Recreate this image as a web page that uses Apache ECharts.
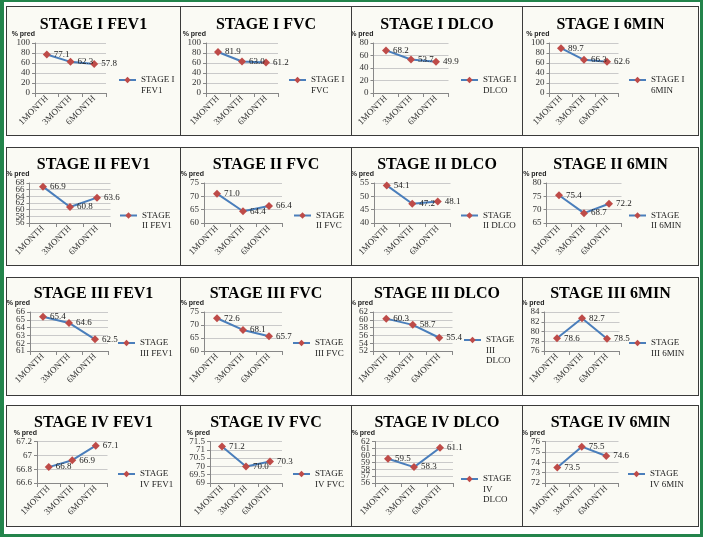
<!DOCTYPE html>
<html><head><meta charset="utf-8">
<script src="https://cdn.jsdelivr.net/npm/echarts@6/dist/echarts.min.js"></script>
<style>
html,body{margin:0;padding:0;background:#fff;}
#page{position:relative;width:706px;height:537px;overflow:hidden;background:#fff;}
#frame{position:absolute;left:0;top:0;width:696px;height:532px;border-style:solid;border-color:#23844b;border-width:2px 3px 3px 4px;}
.panel{position:absolute;background:#fafaf4;}
.pborder{position:absolute;border:1px solid #3a3a3a;box-sizing:border-box;pointer-events:none;}
</style></head>
<body><div id="page"><div id="frame"></div></div>
<script>
// ---------- data ----------
const categories = ['1MONTH', '3MONTH', '6MONTH'];

const titles = [
  'STAGE I FEV1', 'STAGE I FVC', 'STAGE I DLCO', 'STAGE I 6MIN',
  'STAGE II FEV1', 'STAGE II FVC', 'STAGE II DLCO', 'STAGE II 6MIN',
  'STAGE III FEV1', 'STAGE III FVC', 'STAGE III DLCO', 'STAGE III 6MIN',
  'STAGE IV FEV1', 'STAGE IV FVC', 'STAGE IV DLCO', 'STAGE IV 6MIN'
];
const legendLabels = [
  'STAGE I\nFEV1', 'STAGE I\nFVC', 'STAGE I\nDLCO', 'STAGE I\n6MIN',
  'STAGE\nII FEV1', 'STAGE\nII FVC', 'STAGE\nII DLCO', 'STAGE\nII 6MIN',
  'STAGE\nIII FEV1', 'STAGE\nIII FVC', 'STAGE\nIII\nDLCO', 'STAGE\nIII 6MIN',
  'STAGE\nIV FEV1', 'STAGE\nIV FVC', 'STAGE\nIV\nDLCO', 'STAGE\nIV 6MIN'
];

const stageI_FEV1 = [77.1, 62.3, 57.8];
const stageI_FVC = [81.9, 63.0, 61.2];
const stageI_DLCO = [68.2, 53.7, 49.9];
const stageI_6MIN = [89.7, 66.3, 62.6];
const stageII_FEV1 = [66.9, 60.8, 63.6];
const stageII_FVC = [71.0, 64.4, 66.4];
const stageII_DLCO = [54.1, 47.2, 48.1];
const stageII_6MIN = [75.4, 68.7, 72.2];
const stageIII_FEV1 = [65.4, 64.6, 62.5];
const stageIII_FVC = [72.6, 68.1, 65.7];
const stageIII_DLCO = [60.3, 58.7, 55.4];
const stageIII_6MIN = [78.6, 82.7, 78.5];
const stageIV_FEV1 = [66.83, 66.93, 67.14];
const stageIV_FVC = [71.2, 70.0, 70.3];
const stageIV_DLCO = [59.5, 58.3, 61.1];
const stageIV_6MIN = [73.5, 75.5, 74.6];

const seriesValues = [
  stageI_FEV1, stageI_FVC, stageI_DLCO, stageI_6MIN,
  stageII_FEV1, stageII_FVC, stageII_DLCO, stageII_6MIN,
  stageIII_FEV1, stageIII_FVC, stageIII_DLCO, stageIII_6MIN,
  stageIV_FEV1, stageIV_FVC, stageIV_DLCO, stageIV_6MIN
];

const yMins  = [0, 0, 0, 0,   56, 60, 40, 65,  61, 60, 52, 76,  66.6, 69, 56, 72];
const yMaxs  = [100, 100, 80, 100,  68, 75, 55, 80,  66, 75, 62, 84,  67.2, 71.5, 62, 76];
const ySteps = [20, 20, 20, 20,  2, 5, 5, 5,  1, 5, 2, 2,  0.2, 0.5, 1, 1];
const yAxisName = '% pred';

// ---------- layout (styles only) ----------
const colEdges = [6, 180, 351, 522, 698];
const rowEdges = [[6, 135], [147, 265], [277, 395], [405, 526]];
const rowPlot = [[37, 50], [36, 40], [35, 39], [36.5, 41.5]];
const rowTitleTop = [10.5, 9.5, 9, 9.5];
const panelLayout = [
  [29, 71, 112, 74], [26, 72, 108, 74], [22.5, 75, 109, 74], [27.5, 69, 106, 74],
  [23.5, 81, 113, 68.5], [24, 78, 113, 68.5], [23, 76.5, 109, 68.5], [24.5, 75, 106, 68.5],
  [24, 78, 111, 66], [24, 78, 112, 66], [22, 79.5, 112, 63], [22.5, 75, 106, 66],
  [31, 70.5, 111, 69], [30, 72, 112, 69], [24, 78, 109, 74], [23, 73.5, 105, 69]
];

const SERIF = 'Liberation Serif';
const SANS = 'Liberation Sans';
const LH = 10.5;
const yLabelStyle = { margin: 5, fontFamily: SERIF, fontSize: 9, color: '#333', hideOverlap: false, showMinLabel: true, showMaxLabel: true };

const page = document.getElementById('page');
for (let i = 0; i < 16; i++) {
  const r = Math.floor(i / 4), c = i % 4;
  const x = colEdges[c], y = rowEdges[r][0];
  const w = colEdges[c + 1] - colEdges[c] + 1;
  const h = rowEdges[r][1] - rowEdges[r][0] + 1;
  const div = document.createElement('div');
  div.className = 'panel';
  div.style.cssText = `left:${x}px;top:${y}px;width:${w}px;height:${h}px;`;
  page.appendChild(div);
  const bd = document.createElement('div');
  bd.className = 'pborder';
  bd.style.cssText = `left:${x}px;top:${y}px;width:${w}px;height:${h}px;`;
  page.appendChild(bd);

  const L = panelLayout[i];
  const nLines = legendLabels[i].split('\n').length;
  // leading blank lines so that the icon sits on the first text line
  const legendText = '\n'.repeat(nLines - 1) + legendLabels[i];
  const totalLines = 2 * nLines - 1;
  const legendTop = L[3] - totalLines * LH / 2;

  // tick values split over two coincident axes so that tightly packed labels are all kept
  const nSteps = Math.round((yMaxs[i] - yMins[i]) / ySteps[i]);
  const ticks = [];
  for (let k = 0; k <= nSteps; k++) ticks.push(Number((yMins[i] + k * ySteps[i]).toFixed(4)));
  const evenTicks = ticks.filter((_, k) => k % 2 === 0);
  const oddTicks = ticks.filter((_, k) => k % 2 === 1);

  const chart = echarts.init(div, null, { renderer: 'canvas', width: w, height: h });
  chart.setOption({
    animation: false,
    title: {
      text: titles[i], left: 'center', top: rowTitleTop[r], padding: 0,
      textStyle: { fontFamily: SERIF, fontWeight: 'bold', fontSize: 16, color: '#000' }
    },
    grid: { left: L[0], width: L[1], top: rowPlot[r][0], height: rowPlot[r][1], containLabel: false, outerBoundsMode: 'none' },
    legend: {
      data: [titles[i]], left: L[2], top: legendTop, padding: 0, orient: 'vertical',
      itemWidth: 17, itemHeight: 8,
      formatter: () => legendText,
      textStyle: { fontFamily: SERIF, fontSize: 9, color: '#222', lineHeight: LH }
    },
    xAxis: {
      type: 'category', data: categories, boundaryGap: true,
      axisLine: { show: true, lineStyle: { color: '#888', width: 1 } },
      axisTick: { show: true, length: 4, lineStyle: { color: '#888' } },
      axisLabel: { interval: 0, rotate: 45, margin: 4, fontFamily: SERIF, fontSize: 9, color: '#333', hideOverlap: false },
      splitLine: { show: false }
    },
    yAxis: [{
      type: 'value', position: 'left', offset: 0,
      min: yMins[i], max: yMaxs[i], interval: ySteps[i],
      name: yAxisName, nameLocation: 'end', nameGap: 5,
      nameTextStyle: { fontFamily: SANS, fontWeight: 'bold', fontSize: 7, color: '#222', align: 'right', verticalAlign: 'bottom' },
      axisLine: { show: true, lineStyle: { color: '#888', width: 1 } },
      axisTick: { show: true, length: 3, lineStyle: { color: '#888' } },
      axisLabel: Object.assign({ customValues: evenTicks }, yLabelStyle),
      splitLine: { show: true, lineStyle: { color: '#cacaca', width: 1 } }
    }, {
      type: 'value', position: 'left', offset: 0,
      min: yMins[i], max: yMaxs[i], interval: ySteps[i],
      axisLine: { show: false }, axisTick: { show: false }, splitLine: { show: false },
      axisLabel: Object.assign({ customValues: oddTicks }, yLabelStyle)
    }],
    series: [{
      type: 'line', name: titles[i], data: seriesValues[i], yAxisIndex: 0,
      symbol: 'diamond', symbolSize: 8,
      lineStyle: { color: '#4a7ebb', width: 2 },
      itemStyle: { color: '#be4b48' },
      label: {
        show: true, position: 'right', distance: 3,
        fontFamily: SERIF, fontSize: 9, color: '#222',
        formatter: p => Number(p.value).toFixed(1)
      }
    }]
  });
}
</script>
</body></html>
